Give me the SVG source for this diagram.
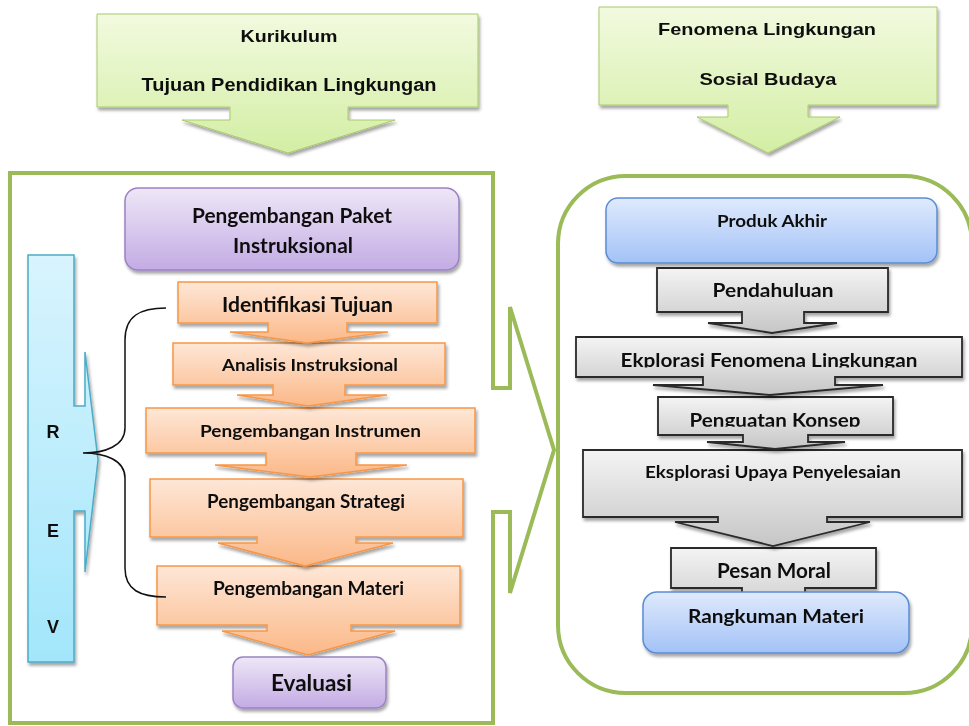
<svg xmlns="http://www.w3.org/2000/svg" width="969" height="726" viewBox="0 0 969 726">
<defs>
<linearGradient id="gGreen" x1="0" y1="0" x2="0" y2="1"><stop offset="0" stop-color="#F2FADF"/><stop offset="1" stop-color="#D3EEA4"/></linearGradient>
<linearGradient id="gPurple" x1="0" y1="0" x2="0" y2="1"><stop offset="0" stop-color="#EEE7F7"/><stop offset="1" stop-color="#C3ABE4"/></linearGradient>
<linearGradient id="gOrange" x1="0" y1="0" x2="0" y2="1"><stop offset="0" stop-color="#FEE7D7"/><stop offset="1" stop-color="#FBB888"/></linearGradient>
<linearGradient id="gGray" x1="0" y1="0" x2="0" y2="1"><stop offset="0" stop-color="#F4F4F4"/><stop offset="1" stop-color="#C6C6C6"/></linearGradient>
<linearGradient id="gBlue" x1="0" y1="0" x2="0" y2="1"><stop offset="0" stop-color="#DFEAFD"/><stop offset="1" stop-color="#A3C2F6"/></linearGradient>
<linearGradient id="gCyan" x1="0" y1="0" x2="0" y2="1"><stop offset="0" stop-color="#D8F4FE"/><stop offset="1" stop-color="#A3E6FB"/></linearGradient>
<filter id="sh" x="-10%" y="-10%" width="120%" height="130%"><feDropShadow dx="1.5" dy="3" stdDeviation="1.8" flood-color="#000" flood-opacity="0.35"/></filter>
<clipPath id="clipEk"><rect x="570" y="330" width="400" height="37.5"/></clipPath>
<clipPath id="clipPk"><rect x="650" y="390" width="250" height="36.8"/></clipPath>
</defs>
<style>
.frame{fill:none;stroke:#9BBB59;stroke-width:4}
.green{fill:url(#gGreen);stroke:#A9C96A;stroke-width:1}
.purple{fill:url(#gPurple);stroke:#9B82C2;stroke-width:1.5}
.orange{fill:url(#gOrange);stroke:#F79646;stroke-width:1.5}
.gray{fill:url(#gGray);stroke:#2B2B2B;stroke-width:1.8}
.blue{fill:url(#gBlue);stroke:#5A8CD6;stroke-width:1.5}
.cyan{fill:url(#gCyan);stroke:#4BACC6;stroke-width:1.5}
.t{font-family:Lato,"Noto Sans","Liberation Sans",sans-serif;font-weight:bold;fill:#111;text-anchor:middle}
.a{font-family:"Liberation Sans",Arial,sans-serif;font-weight:bold;fill:#111;text-anchor:middle}
.brace{fill:none;stroke:#111;stroke-width:1.5}
</style>

<g id="frames">
<path class="frame" d="M10,173 H493 V388 H510 V307 L554,450 L510,593 V512 H493 V723 H10 Z"/>
<rect class="frame" x="558" y="176" width="414" height="517" rx="68"/>
</g>

<g id="kurikulum" filter="url(#sh)">
<path class="green" d="M97,14 H478 V107 H348 V120 H395 L288,153 L182,120 H230 V107 H97 Z"/>
<text class="a" x="289" y="42" font-size="17" textLength="97" lengthAdjust="spacingAndGlyphs">Kurikulum</text>
<text class="a" x="289" y="91" font-size="18" textLength="295" lengthAdjust="spacingAndGlyphs">Tujuan Pendidikan Lingkungan</text>
</g>

<g id="fenomena" filter="url(#sh)">
<path class="green" d="M599,7 H937 V105 H808 V117 H840 L768,153 L697,117 H728 V105 H599 Z"/>
<text class="a" x="767" y="35" font-size="17" textLength="218" lengthAdjust="spacingAndGlyphs">Fenomena Lingkungan</text>
<text class="a" x="768" y="85" font-size="17" textLength="137" lengthAdjust="spacingAndGlyphs">Sosial Budaya</text>
</g>

<g id="paket" filter="url(#sh)">
<rect class="purple" x="125" y="188" width="334" height="82" rx="13"/>
<text class="t" x="292" y="223" font-size="20" textLength="200" lengthAdjust="spacingAndGlyphs">Pengembangan Paket</text>
<text class="t" x="293" y="253" font-size="20" textLength="120" lengthAdjust="spacingAndGlyphs">Instruksional</text>
</g>

<g id="rev" filter="url(#sh)">
<path class="cyan" d="M28,255 H74 V406 H85 V352 L98,460 L85,572 V511 H74 V662 H28 Z"/>
<text class="a" x="53" y="438" font-size="18">R</text>
<text class="a" x="53" y="537" font-size="18">E</text>
<text class="a" x="53" y="633" font-size="18">V</text>
</g>

<g id="pengembangan-materi" filter="url(#sh)">
<path class="orange" d="M157,566 H460 V625 H351 V631 H395 L308,655 L222,631 H267 V625 H157 Z"/>
<text class="t" x="308.5" y="595" font-size="18.5" textLength="191" lengthAdjust="spacingAndGlyphs">Pengembangan Materi</text>
</g>
<g id="pengembangan-strategi" filter="url(#sh)">
<path class="orange" d="M150,479 H463 V537 H356 V543 H393 L305,566 L218,543 H257 V537 H150 Z"/>
<text class="t" x="306" y="508" font-size="18.5" textLength="198" lengthAdjust="spacingAndGlyphs">Pengembangan Strategi</text>
</g>
<g id="pengembangan-instrumen" filter="url(#sh)">
<path class="orange" d="M146,408 H475 V453 H356 V465 H407 L310,477 L215,465 H266 V453 H146 Z"/>
<text class="t" x="310.5" y="437" font-size="17.5" textLength="221" lengthAdjust="spacingAndGlyphs">Pengembangan Instrumen</text>
</g>
<g id="analisis-instruksional" filter="url(#sh)">
<path class="orange" d="M173,343 H445 V385 H345 V395 H387 L308,406 L237,395 H273 V385 H173 Z"/>
<text class="t" x="310" y="371" font-size="17" textLength="176" lengthAdjust="spacingAndGlyphs">Analisis Instruksional</text>
</g>
<g id="identifikasi-tujuan" filter="url(#sh)">
<path class="orange" d="M178,282 H437 V323 H347 V332 H388 L307,343 L230,332 H268 V323 H178 Z"/>
<text class="t" x="307.5" y="312" font-size="20" textLength="171" lengthAdjust="spacingAndGlyphs">Identifikasi Tujuan</text>
</g>

<g id="evaluasi" filter="url(#sh)">
<rect class="purple" x="233" y="657" width="153" height="51" rx="10"/>
<text class="t" x="311.5" y="691" font-size="22" textLength="81" lengthAdjust="spacingAndGlyphs">Evaluasi</text>
</g>

<g id="produk-akhir" filter="url(#sh)">
<rect class="blue" x="606" y="198" width="331" height="65" rx="12"/>
<text class="t" x="772" y="227" font-size="17.5" textLength="110" lengthAdjust="spacingAndGlyphs">Produk Akhir</text>
</g>

<g id="pesan-moral" filter="url(#sh)">
<path class="gray" d="M671,548 H876 V588 H805 V600 H840 L773,620 L710,600 H742 V588 H671 Z"/>
<text class="t" x="774" y="578" font-size="20" textLength="114" lengthAdjust="spacingAndGlyphs">Pesan Moral</text>
</g>
<g id="eksplorasi-upaya" filter="url(#sh)">
<path class="gray" d="M583,450 H962 V517 H827 V522 H870 L773,546 L675,522 H718 V517 H583 Z"/>
<text class="t" x="773" y="478" font-size="17" textLength="256" lengthAdjust="spacingAndGlyphs">Eksplorasi Upaya Penyelesaian</text>
</g>
<g id="penguatan-konsep" filter="url(#sh)">
<path class="gray" d="M658,397 H893 V435 H808 V442 H845 L775,449 L707,442 H743 V435 H658 Z"/>
<text class="t" x="775" y="426.5" font-size="18.5" textLength="171" lengthAdjust="spacingAndGlyphs" clip-path="url(#clipPk)">Penguatan Konsep</text>
</g>
<g id="eksplorasi-fenomena" filter="url(#sh)">
<path class="gray" d="M576,337 H962 V377 H835 V385 H883 L770,395 L653,385 H703 V377 H576 Z"/>
<text class="t" x="769" y="367" font-size="18.5" textLength="297" lengthAdjust="spacingAndGlyphs" clip-path="url(#clipEk)">Ekplorasi Fenomena Lingkungan</text>
</g>
<g id="pendahuluan" filter="url(#sh)">
<path class="gray" d="M657,268 H888 V312 H804 V323 H837 L772,333 L708,323 H742 V312 H657 Z"/>
<text class="t" x="773" y="297" font-size="18.5" textLength="121" lengthAdjust="spacingAndGlyphs">Pendahuluan</text>
</g>

<g id="rangkuman-materi" filter="url(#sh)">
<rect class="blue" x="643" y="592" width="266" height="61" rx="14"/>
<text class="t" x="776" y="623" font-size="19.5" textLength="176" lengthAdjust="spacingAndGlyphs">Rangkuman Materi</text>
</g>

<g id="connectors">
<path class="brace" d="M166,308 C140,308 125,316 125,340 L125,428 C125,446 105,453 83,453 C105,453 125,460 125,478 L125,568 C125,590 140,597 166,597"/>
</g>
</svg>
